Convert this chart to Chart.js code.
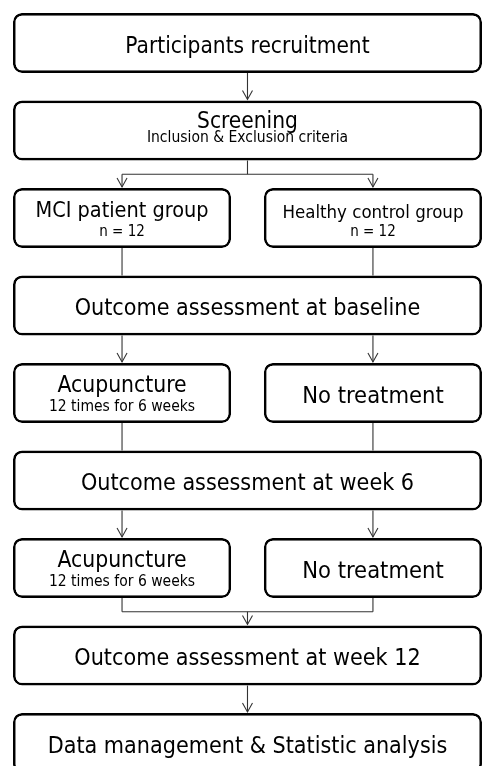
<!DOCTYPE html>
<html>
<head>
<meta charset="utf-8">
<script src="https://cdn.jsdelivr.net/npm/chart.js@4.4.1/dist/chart.umd.min.js"></script>
<style>
  html, body { margin: 0; padding: 0; background: #ffffff; }
  #wrap { width: 484px; height: 766px; }
</style>
</head>
<body>
<div id="wrap"><canvas id="flow" width="484" height="766"></canvas></div>
<script>
// ---- Flow content -------------------------------------------------------
// Stages are numbered top to bottom (0 = first box).
// Boxes that span the whole width
const fullStages    = [0, 1, 3, 5, 7, 8];
const fullIds       = ['recruit', 'screen', 'base', 'week6', 'week12', 'data'];
const fullTitles    = ['Participants recruitment', 'Screening', 'Outcome assessment at baseline',
                       'Outcome assessment at week 6', 'Outcome assessment at week 12',
                       'Data management & Statistic analysis'];
const fullSubtitles = ['', 'Inclusion & Exclusion criteria', '', '', '', ''];

// Left column (MCI patients)
const leftStages    = [2, 4, 6];
const leftIds       = ['mci', 'acu1', 'acu2'];
const leftTitles    = ['MCI patient group', 'Acupuncture', 'Acupuncture'];
const leftSubtitles = ['n = 12', '12 times for 6 weeks', '12 times for 6 weeks'];

// Right column (healthy controls)
const rightStages    = [2, 4, 6];
const rightIds       = ['healthy', 'none1', 'none2'];
const rightTitles    = ['Healthy control group', 'No treatment', 'No treatment'];
const rightSubtitles = ['n = 12', '', ''];

// Connectors between boxes
const linkFrom = [['recruit'], ['screen'], ['mci', 'healthy'], ['base'], ['acu1', 'none1'], ['week6'], ['acu2', 'none2'], ['week12']];
const linkTo   = [['screen'], ['mci', 'healthy'], ['base'], ['acu1', 'none1'], ['week6'], ['acu2', 'none2'], ['week12'], ['data']];
const linkKind = ['arrow', 'split', 'line', 'arrow', 'line', 'arrow', 'merge', 'arrow'];

// ---- Layout (column spans on the horizontal axis, 0..1 = flow width) ----
const spanFull  = [0, 1];
const spanLeft  = [0, 0.465];
const spanRight = [0.535, 1];

// ---- Text styles ---------------------------------------------------------
const FONT = "'DejaVu Sans Condensed', 'DejaVu Sans', sans-serif";
const textStyle = {
  default: { size: 23.1, subSize: 15.5, single: 10, title: -1, sub: 18.5 },
  recruit: { size: 22.5 },
  screen:  { size: 22.5, subSize: 15.5, title: -2.5, sub: 11.6 },
  mci:     { size: 21.5, subSize: 15 },
  healthy: { size: 18.5, subSize: 15, title: 0 },
  acu1:    { size: 22.7 },
  acu2:    { size: 22.7 },
  none1:   { size: 23.5 },
  none2:   { size: 23.5 }
};

function makeBoxes(stages, span) {
  return stages.map(s => ({ x: span, y: s }));
}

const boxStyle = {
  backgroundColor: '#ffffff',
  borderColor: '#000000',
  borderWidth: 2.7,
  borderRadius: 9,
  borderSkipped: false,
  grouped: false,
  categoryPercentage: 1,
  barPercentage: 0.686
};

const groups = [
  { ids: fullIds,  titles: fullTitles,  subs: fullSubtitles },
  { ids: leftIds,  titles: leftTitles,  subs: leftSubtitles },
  { ids: rightIds, titles: rightTitles, subs: rightSubtitles }
];

function boxGeom(chart) {
  const map = {};
  groups.forEach((g, di) => {
    const meta = chart.getDatasetMeta(di);
    meta.data.forEach((el, i) => {
      const p = el.getProps(['x', 'y', 'base', 'height'], true);
      const left = Math.min(p.x, p.base), right = Math.max(p.x, p.base);
      map[g.ids[i]] = {
        left, right, cx: (left + right) / 2, cy: p.y,
        top: p.y - p.height / 2, bottom: p.y + p.height / 2,
        title: g.titles[i], sub: g.subs[i]
      };
    });
  });
  return map;
}

function arrowHead(ctx, x, y) {
  ctx.beginPath();
  ctx.moveTo(x - 5, y - 9);
  ctx.lineTo(x, y);
  ctx.lineTo(x + 5, y - 9);
  ctx.stroke();
}
function vline(ctx, x, y0, y1) {
  ctx.beginPath(); ctx.moveTo(x, y0); ctx.lineTo(x, y1); ctx.stroke();
}
function hline(ctx, x0, x1, y) {
  ctx.beginPath(); ctx.moveTo(x0, y); ctx.lineTo(x1, y); ctx.stroke();
}

const flowPlugin = {
  id: 'flow',
  afterDatasetsDraw(chart) {
    const ctx = chart.ctx;
    const g = boxGeom(chart);
    ctx.save();
    // connectors
    ctx.strokeStyle = '#333333';
    ctx.lineWidth = 1.1;
    linkKind.forEach((kind, k) => {
      const from = linkFrom[k].map(id => g[id]);
      const to = linkTo[k].map(id => g[id]);
      if (kind === 'arrow') {
        to.forEach(t => {
          const x = to.length > 1 ? t.cx : from[0].cx;
          vline(ctx, x, from[0].bottom, t.top - 1);
          arrowHead(ctx, x, t.top - 1);
        });
      } else if (kind === 'line') {
        from.forEach(f => vline(ctx, f.cx, f.bottom, to[0].top));
      } else if (kind === 'split') {
        const f = from[0];
        const midY = (f.bottom + Math.min(...to.map(t => t.top))) / 2;
        vline(ctx, f.cx, f.bottom, midY);
        hline(ctx, Math.min(...to.map(t => t.cx)), Math.max(...to.map(t => t.cx)), midY);
        to.forEach(t => { vline(ctx, t.cx, midY, t.top - 1); arrowHead(ctx, t.cx, t.top - 1); });
      } else if (kind === 'merge') {
        const t = to[0];
        const midY = (Math.max(...from.map(f => f.bottom)) + t.top) / 2;
        from.forEach(f => vline(ctx, f.cx, f.bottom, midY));
        const xs = from.map(f => f.cx);
        hline(ctx, Math.min(...xs), Math.max(...xs), midY);
        const x = (Math.min(...xs) + Math.max(...xs)) / 2;
        vline(ctx, x, midY, t.top - 1);
        arrowHead(ctx, x, t.top - 1);
      }
    });
    // texts
    ctx.fillStyle = '#000000';
    ctx.textAlign = 'center';
    ctx.textBaseline = 'alphabetic';
    Object.keys(g).forEach(id => {
      const b = g[id];
      const st = Object.assign({}, textStyle.default, textStyle[id] || {});
      ctx.font = st.size + 'px ' + FONT;
      if (b.sub) {
        ctx.fillText(b.title, b.cx, b.cy + st.title);
        ctx.font = st.subSize + 'px ' + FONT;
        ctx.fillText(b.sub, b.cx, b.cy + st.sub);
      } else {
        ctx.fillText(b.title, b.cx, b.cy + st.single);
      }
    });
    ctx.restore();
  }
};

new Chart(document.getElementById('flow'), {
  type: 'bar',
  data: {
    datasets: [
      Object.assign({ label: 'full', data: makeBoxes(fullStages, spanFull) }, boxStyle),
      Object.assign({ label: 'left', data: makeBoxes(leftStages, spanLeft) }, boxStyle),
      Object.assign({ label: 'right', data: makeBoxes(rightStages, spanRight) }, boxStyle)
    ]
  },
  options: {
    indexAxis: 'y',
    responsive: false,
    devicePixelRatio: 1,
    animation: false,
    layout: { padding: 0 },
    plugins: { legend: { display: false }, tooltip: { enabled: false }, title: { display: false } },
    scales: {
      x: { type: 'linear', min: -0.0277, max: 1.0043, display: false, offset: false },
      y: { type: 'linear', min: -0.491, max: 8.263, reverse: true, display: false, offset: false,
           grid: { offset: false }, ticks: { stepSize: 1, includeBounds: false } }
    }
  },
  plugins: [flowPlugin]
});
</script>
</body>
</html>
